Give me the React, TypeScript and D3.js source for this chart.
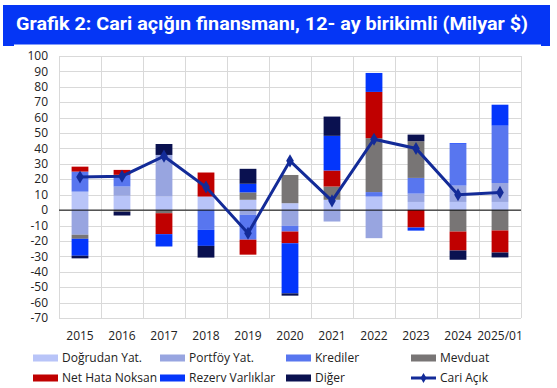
import { useEffect, useRef } from 'react';
import * as d3 from 'd3';

// kategoriler ve seriler (milyar $)
const categories = ['2015', '2016', '2017', '2018', '2019', '2020', '2021', '2022', '2023', '2024', '2025/01'];
const dogrudanYat = [12, 9.3, 8.8, 8.8, 6.7, 4.5, 6.7, 8.8, 5.3, 5.3, 5.3];
const portfoyYat = [-16, 6, 27, 0, -3, -10.2, -7.4, -18.2, 5.4, 10.6, 12.3];
const krediler = [13, 7.6, 0, -12.8, -16.2, -3.7, 0, 2.9, 10.2, 27, 37.2];
const mevduat = [-2.6, -1.1, -2, 0, 4.8, 18.3, 8.6, 35, 23.8, -13.9, -13.2];
const netHataNoksan = [3.2, 3.2, -13.6, 15.6, -9.7, -7.6, 10.4, 30, -11.3, -12.3, -14.3];
const rezervVarliklar = [-11, 0, -8, -10.4, 5.6, -32.5, 22.5, 12.3, -2, 0.5, 13.6];
const diger = [-1.7, -2.4, 7.1, -7.6, 9.7, -1.5, 12.5, 0, 4.3, -6, -3.2];
const cariAcik = [21.5, 22, 35, 15, -15, 32, 6, 46, 40, 10, 11.5];

const seriesNames = ['Doğrudan Yat.', 'Portföy Yat.', 'Krediler', 'Mevduat', 'Net Hata Noksan', 'Rezerv Varlıklar', 'Diğer'];
const seriesValues = [dogrudanYat, portfoyYat, krediler, mevduat, netHataNoksan, rezervVarliklar, diger];
const seriesColors = ['#b8c4f8', '#98a5e0', '#5876ef', '#787575', '#c00000', '#0436fb', '#0a1150'];
const lineName = 'Cari Açık';
const lineColor = '#132b98';
const yTicks = d3.range(-70, 101, 10);

const W = 557;
const H = 388;

const App = () => {
  const svgRef = useRef<SVGSVGElement>(null);

  useEffect(() => {
    const svg = d3.select(svgRef.current);
    svg.selectAll('*').remove();

    const x = d3
      .scaleBand<string>()
      .domain(categories)
      .range([59, 521])
      .paddingInner(0.6)
      .paddingOuter(0.3);
    const y = d3.scaleLinear().domain([-70, 100]).range([318, 56]);

    svg.append('rect').attr('width', W).attr('height', H).attr('fill', '#fff');

    // başlık
    svg.append('rect').attr('x', 3).attr('y', 5).attr('width', 547).attr('height', 41).attr('fill', '#0536f5');
    svg.append('rect').attr('x', 14).attr('y', 44.5).attr('width', 527).attr('height', 2).attr('fill', '#fff');
    svg
      .append('text')
      .attr('x', 16)
      .attr('y', 30)
      .attr('fill', '#fff')
      .style('font-family', 'Roboto, sans-serif')
      .style('font-weight', 'bold')
      .style('font-size', '18px')
      .attr('textLength', 512)
      .attr('lengthAdjust', 'spacingAndGlyphs')
      .text('Grafik 2: Cari açığın finansmanı, 12- ay birikimli (Milyar $)');

    // grid
    const grid = svg.append('g').attr('stroke', '#d9d9d9').attr('stroke-width', 1);
    grid
      .selectAll('.h')
      .data(yTicks)
      .enter()
      .append('line')
      .attr('x1', 59)
      .attr('x2', 521)
      .attr('y1', d => Math.round(y(d)) + 0.5)
      .attr('y2', d => Math.round(y(d)) + 0.5);
    const vLines = d3.range(categories.length + 1).map(i => 59 + i * x.step());
    grid
      .selectAll('.v')
      .data(vLines)
      .enter()
      .append('line')
      .attr('x1', d => Math.round(d) + 0.5)
      .attr('x2', d => Math.round(d) + 0.5)
      .attr('y1', y(100))
      .attr('y2', y(-70));

    // y ekseni etiketleri
    svg
      .append('g')
      .selectAll('text')
      .data(yTicks)
      .enter()
      .append('text')
      .attr('x', 48)
      .attr('y', d => y(d))
      .attr('dy', '0.35em')
      .attr('text-anchor', 'end')
      .style('font-family', '"Open Sans", sans-serif')
      .style('font-size', '12px')
      .attr('fill', '#222')
      .text(d => d);

    // x ekseni etiketleri
    svg
      .append('g')
      .selectAll('text')
      .data(categories)
      .enter()
      .append('text')
      .attr('x', d => (x(d) as number) + x.bandwidth() / 2)
      .attr('y', 340)
      .attr('text-anchor', 'middle')
      .style('font-family', '"Open Sans", sans-serif')
      .style('font-size', '12px')
      .attr('fill', '#222')
      .text(d => d);

    // yığılmış çubuklar
    const table = categories.map((c, i) => {
      const row: Record<string, any> = { cat: c };
      seriesNames.forEach((s, j) => (row[s] = seriesValues[j][i]));
      return row;
    });
    const stacked = d3
      .stack<Record<string, any>>()
      .keys(seriesNames)
      .offset(d3.stackOffsetDiverging)(table);

    svg
      .append('g')
      .selectAll('g')
      .data(stacked)
      .enter()
      .append('g')
      .attr('fill', (d, i) => seriesColors[i])
      .selectAll('rect')
      .data(d => d)
      .enter()
      .append('rect')
      .attr('x', d => x(d.data.cat) as number)
      .attr('width', x.bandwidth())
      .attr('y', d => y(Math.max(d[0], d[1])))
      .attr('height', d => Math.abs(y(d[0]) - y(d[1])));

    // sıfır çizgisi
    svg
      .append('line')
      .attr('x1', 59)
      .attr('x2', 521)
      .attr('y1', y(0))
      .attr('y2', y(0))
      .attr('stroke', '#000')
      .attr('stroke-width', 1);

    // cari açık çizgisi
    const cx = (c: string) => (x(c) as number) + x.bandwidth() / 2;
    const line = d3
      .line<number>()
      .x((d, i) => cx(categories[i]))
      .y(d => y(d));
    svg
      .append('path')
      .attr('d', line(cariAcik))
      .attr('fill', 'none')
      .attr('stroke', lineColor)
      .attr('stroke-width', 3);
    const diamond = d3.symbol().type(d3.symbolDiamond).size(50);
    svg
      .append('g')
      .selectAll('path')
      .data(cariAcik)
      .enter()
      .append('path')
      .attr('d', diamond)
      .attr('transform', (d, i) => `translate(${cx(categories[i])},${y(d)})`)
      .attr('fill', lineColor);

    // lejant
    const legendItems = [...seriesNames.map((n, i) => ({ name: n, color: seriesColors[i], line: false })), { name: lineName, color: lineColor, line: true }];
    const colX = [33, 160, 286, 411];
    const rowY = [358, 378];
    const legend = svg
      .selectAll('.legend')
      .data(legendItems)
      .enter()
      .append('g')
      .attr('class', 'legend')
      .attr('transform', (d, i) => `translate(${colX[i % 4]},${rowY[Math.floor(i / 4)]})`);
    legend
      .filter(d => !d.line)
      .append('rect')
      .attr('x', 0)
      .attr('y', -3.5)
      .attr('width', 25)
      .attr('height', 7)
      .attr('fill', d => d.color);
    const lineLegend = legend.filter(d => d.line);
    lineLegend
      .append('line')
      .attr('x1', 0)
      .attr('x2', 25)
      .attr('y1', 0)
      .attr('y2', 0)
      .attr('stroke', lineColor)
      .attr('stroke-width', 3);
    lineLegend
      .append('path')
      .attr('d', d3.symbol().type(d3.symbolDiamond).size(30))
      .attr('transform', 'translate(12.5,0)')
      .attr('fill', lineColor);
    legend
      .append('text')
      .attr('x', 29)
      .attr('y', 0)
      .attr('dy', '0.35em')
      .style('font-family', '"Open Sans", sans-serif')
      .style('font-size', '12px')
      .attr('fill', '#222')
      .text(d => d.name);
  }, []);

  return (
    <svg
      ref={svgRef}
      width={W}
      height={H}
      style={{ position: 'absolute', left: 0, top: 0, display: 'block' }}
    ></svg>
  );
};

export default App;
